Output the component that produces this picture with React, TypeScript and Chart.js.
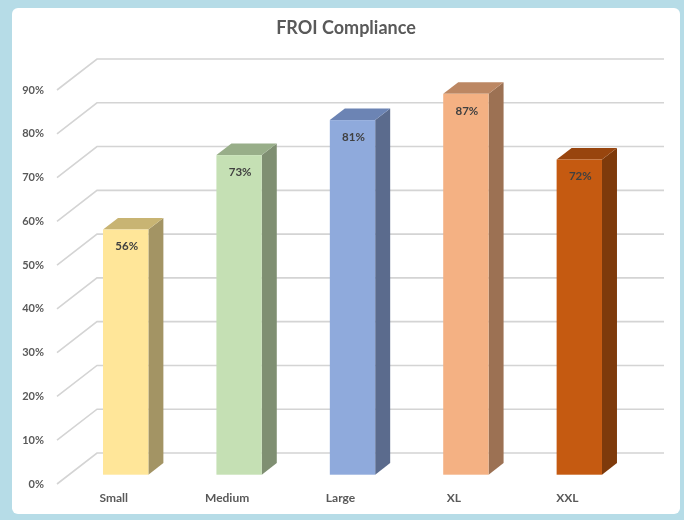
import React, { useEffect, useRef } from "react";
import { Chart, registerables } from "chart.js";

Chart.register(...registerables);

const categories = ["Small", "Medium", "Large", "XL", "XXL"];
const values = [56, 73, 81, 87, 72];
const frontColors = ["#FFE699", "#C5E0B4", "#8FAADC", "#F4B183", "#C55A11"];
const sideColors = ["#A39464", "#7F8F72", "#5B6B8D", "#9C7153", "#7E3A0B"];
const topColors = ["#C8B473", "#98AE89", "#6C84B4", "#BC8763", "#98450E"];
const yMin = 0;
const yMax = 90;
const yStep = 10;
const titleText = "FROI Compliance";

const FONT = "Lato, 'Open Sans', sans-serif";
const DX = 40;
const DY = -31;
const FRONT = 0.3;
const DEPTH = 0.375;

const threeD = {
  id: "threeD",
  beforeDatasetsDraw(chart: any) {
    const { ctx, chartArea, scales } = chart;
    const y = scales.y;
    ctx.save();
    ctx.strokeStyle = "#d4d4d4";
    ctx.lineWidth = 1.6;
    y.ticks.forEach((t: any) => {
      const py = y.getPixelForValue(t.value);
      ctx.beginPath();
      ctx.moveTo(chartArea.left, py);
      ctx.lineTo(chartArea.left + DX, py + DY);
      ctx.lineTo(chartArea.right + DX, py + DY);
      ctx.stroke();
    });
    ctx.restore();
  },
  afterDatasetsDraw(chart: any) {
    const { ctx } = chart;
    const meta = chart.getDatasetMeta(0);
    ctx.save();
    meta.data.forEach((el: any, i: number) => {
      const { x, y, base, width } = el.getProps(["x", "y", "base", "width"], true);
      const ox = FRONT * DX;
      const oy = FRONT * DY;
      const dx = DEPTH * DX;
      const dy = DEPTH * DY;
      const l = x - width / 2 + ox;
      const r = x + width / 2 + ox;
      const t = y + oy;
      const b = base + oy;
      // side face
      ctx.fillStyle = sideColors[i];
      ctx.beginPath();
      ctx.moveTo(r, t);
      ctx.lineTo(r + dx, t + dy);
      ctx.lineTo(r + dx, b + dy);
      ctx.lineTo(r, b);
      ctx.closePath();
      ctx.fill();
      // top face
      ctx.fillStyle = topColors[i];
      ctx.beginPath();
      ctx.moveTo(l, t);
      ctx.lineTo(l + dx, t + dy);
      ctx.lineTo(r + dx, t + dy);
      ctx.lineTo(r, t);
      ctx.closePath();
      ctx.fill();
      // front face
      ctx.fillStyle = frontColors[i];
      ctx.fillRect(l, t, r - l, b - t);
      // value label
      ctx.fillStyle = "#404040";
      ctx.font = `bold 11.5px ${FONT}`;
      ctx.textAlign = "center";
      ctx.textBaseline = "middle";
      ctx.fillText(values[i] + "%", x + ox + 1, t + 17);
    });
    ctx.restore();
  },
};

export default function App() {
  const ref = useRef<HTMLCanvasElement>(null);
  useEffect(() => {
    if (!ref.current) return;
    const chart = new Chart(ref.current, {
      type: "bar",
      data: {
        labels: categories,
        datasets: [
          {
            data: values,
            backgroundColor: "rgba(0,0,0,0)",
            borderWidth: 0,
            barPercentage: 0.4,
            categoryPercentage: 1,
          },
        ],
      },
      options: {
        animation: false,
        responsive: false,
        devicePixelRatio: 1,
        events: [],
        layout: { padding: { left: 14, right: 6, top: 0, bottom: 10 } },
        plugins: {
          legend: { display: false },
          tooltip: { enabled: false },
          title: {
            display: true,
            text: titleText,
            color: "#595959",
            font: { family: FONT, size: 18, weight: "bold" },
            padding: { top: 17, bottom: 51.4 },
          },
        },
        scales: {
          x: {
            grid: { display: false, drawTicks: false },
            border: { display: false },
            ticks: {
              color: "#595959",
              font: { family: FONT, size: 12, weight: "bold" },
              padding: 7,
              maxRotation: 0,
            },
            afterFit: (s: any) => {
              s.height = 26;
            },
          },
          y: {
            min: yMin,
            max: yMax,
            grid: { display: false, drawTicks: false },
            border: { display: false },
            ticks: {
              stepSize: yStep,
              color: "#595959",
              font: { family: FONT, size: 11, weight: "bold" },
              padding: 13,
              callback: (v: any) => v + "%",
            },
            afterFit: (s: any) => {
              s.width = 43;
            },
          },
          yr: {
            position: "right",
            min: yMin,
            max: yMax,
            grid: { display: false, drawTicks: false },
            border: { display: false },
            ticks: { display: false },
            afterFit: (s: any) => {
              s.width = 54;
            },
          },
        },
      },
      plugins: [threeD],
    });
    return () => chart.destroy();
  }, []);

  return (
    <div
      style={{
        position: "fixed",
        left: 0,
        top: 0,
        width: 684,
        height: 520,
        background: "#B6DCE7",
      }}
    >
      <div
        style={{
          position: "absolute",
          left: 12,
          top: 8,
          width: 668,
          height: 506,
          background: "#ffffff",
          borderRadius: 6,
        }}
      />
      <canvas
        ref={ref}
        width={684}
        height={520}
        style={{ position: "absolute", left: 0, top: 0, width: 684, height: 520 }}
      />
    </div>
  );
}
